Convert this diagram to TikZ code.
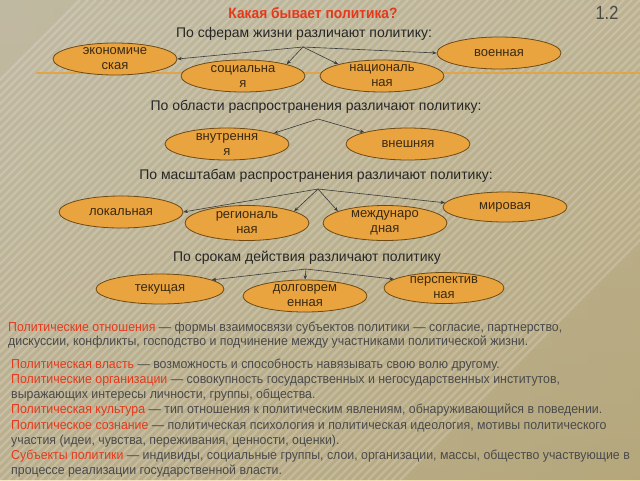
\documentclass[tikz,border=0pt]{standalone}
\usepackage{fontspec}
\setmainfont{Liberation Sans}
\newfontfamily\narrowf[FakeStretch=0.86]{Liberation Sans}
\newfontfamily\bodyf[FakeStretch=0.95]{Liberation Sans}
\newfontfamily\titlef[FakeStretch=0.92]{Liberation Sans}
\usetikzlibrary{shapes.geometric,arrows.meta}
\definecolor{bgL}{HTML}{F9F1D2}
\definecolor{bgR}{HTML}{F0DFAA}
\definecolor{bgB}{HTML}{E8D296}
\definecolor{ovalfill}{HTML}{E9A33F}
\definecolor{ovalline}{HTML}{6E4A14}
\definecolor{ovaltext}{HTML}{3A2A12}
\definecolor{arrowc}{HTML}{3A3A3A}
\definecolor{subc}{HTML}{262626}
\definecolor{bodyc}{HTML}{4A4A4A}
\definecolor{termred}{HTML}{E5391C}
\definecolor{rulec}{HTML}{E2A448}
\tikzset{
  oval/.style={ellipse, draw=ovalline, fill=ovalfill, line width=0.8pt,
    minimum width=124pt, minimum height=32pt, inner sep=0pt},
  ovtext/.style={font=\fontsize{13}{15}\selectfont, text=ovaltext, align=center, inner sep=0pt},
  arr/.style={draw=arrowc, line width=0.6pt, -{Stealth[length=4.5pt,width=3.5pt]}},
  subt/.style={font=\fontsize{14}{16}\selectfont, text=subc, inner sep=0pt},
  body/.style={anchor=base west, font=\bodyf\fontsize{13}{14}\selectfont, text=bodyc, inner sep=0pt}
}
\newcommand{\trm}[1]{\textcolor{termred}{#1}}
\begin{document}
\begin{tikzpicture}[x=1pt,y=-1pt]
\useasboundingbox (0,0) rectangle (640,480);
% background
\fill[left color=bgL, right color=bgR] (0,0) rectangle (640,480);
\fill[top color=bgL, bottom color=bgB, opacity=0.35] (0,0) rectangle (640,480);
\foreach \i in {-400,-392,...,400}{
  \draw[white, opacity=0.18, line width=2.2pt] (\i,480) -- (\i+480,0);
}
% rule
\draw[rulec, line width=1.2pt] (36,73) -- (640,73);
% title
\node[font=\titlef\bfseries\fontsize{15}{17}\selectfont, text=termred] (title) at (313,13) {Какая бывает политика?};
\node[font=\narrowf\fontsize{19}{21}\selectfont, text=bodyc] (num) at (607,13) {1.2};
% row 1
\node[subt] (s1) at (304,34) {По сферам жизни различают политику:};
\coordinate (h1) at (303,47);
\node[oval, label={[ovtext]center:{экономиче\\ская}}] (econ) at (115,59) {};
\node[oval, label={[ovtext]center:{социальна\\я}}] (soc) at (243,76) {};
\node[oval, label={[ovtext]center:{националь\\ная}}] (nat) at (382,76) {};
\node[oval, label={[ovtext]center:{военная}}] (mil) at (499,53) {};
\draw[arr] (h1) -- (econ.east);
\draw[arr] (h1) -- (soc.15);
\draw[arr] (h1) -- (nat.165);
\draw[arr] (h1) -- (mil.west);
% row 2
\node[subt] (s2) at (316,107) {По области распространения различают политику:};
\coordinate (h2) at (318,119);
\node[oval, label={[ovtext]center:{внутрення\\я}}] (vn) at (227,144) {};
\node[oval, label={[ovtext]center:{внешняя}}] (ext) at (408,144) {};
\draw[arr] (h2) -- (vn.13);
\draw[arr] (h2) -- (ext.165);
% row 3
\node[subt] (s3) at (316,176) {По масштабам распространения различают политику:};
\coordinate (h3) at (318,189);
\node[oval, label={[ovtext]center:{локальная}}] (loc) at (121,212) {};
\node[oval, minimum height=35pt, label={[ovtext]center:{региональ\\ная}}] (reg) at (247,223) {};
\node[oval, minimum height=35pt, label={[ovtext]center:{междунаро\\дная}}] (intl) at (385,223) {};
\node[oval, minimum height=30pt, label={[ovtext]center:{мировая}}] (world) at (505,207) {};
\draw[arr] (h3) -- (loc.east);
\draw[arr] (h3) -- (reg.14);
\draw[arr] (h3) -- (intl.166);
\draw[arr] (h3) -- (world.176);
% row 4
\node[subt] (s4) at (307,258) {По срокам действия различают политику};
\coordinate (h4) at (306,269);
\node[oval, minimum width=128pt, minimum height=30pt, label={[ovtext]center:{текущая}}] (cur) at (160,289) {};
\node[oval, label={[ovtext]center:{долговрем\\енная}}] (long) at (305,296) {};
\node[oval, minimum width=120pt, minimum height=31pt, label={[ovtext]center:{перспектив\\ная}}] (persp) at (444,288) {};
\draw[arr] (h4) -- (cur.10);
\draw[arr] (h4) -- (long.north);
\draw[arr] (h4) -- (persp.170);
% text block
\node[body] (t1) at (8,331) {\trm{Политические отношения} — формы взаимосвязи субъектов политики — согласие, партнерство,};
\node[body] (t2) at (8,345) {дискуссии, конфликты, господство и подчинение между участниками политической жизни.};
\node[body] (t3) at (11,368) {\trm{Политическая власть} — возможность и способность навязывать свою волю другому.};
\node[body] (t4) at (11,383.3) {\trm{Политические организации} — совокупность государственных и негосударственных институтов,};
\node[body] (t5) at (11,398.5) {выражающих интересы личности, группы, общества.};
\node[body] (t6) at (11,413.8) {\trm{Политическая культура} — тип отношения к политическим явлениям, обнаруживающийся в поведении.};
\node[body] (t7) at (11,429) {\trm{Политическое сознание} — политическая психология и политическая идеология, мотивы политического};
\node[body] (t8) at (11,444.3) {участия (идеи, чувства, переживания, ценности, оценки).};
\node[body] (t9) at (11,459.5) {\trm{Субъекты политики} — индивиды, социальные группы, слои, организации, массы, общество участвующие в};
\node[body] (t10) at (11,474.8) {процессе реализации государственной власти.};
\end{tikzpicture}
\end{document}
